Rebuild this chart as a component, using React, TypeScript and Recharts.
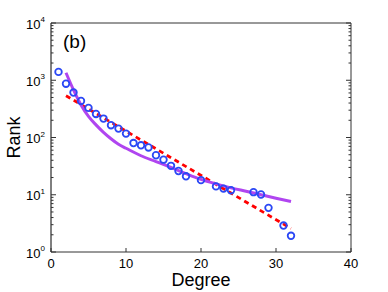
import { ComposedChart, Line, Scatter, XAxis, YAxis } from 'recharts'

// observed degree / rank points
const degrees = [1, 2, 3, 4, 5, 6, 7, 8, 9, 10, 11, 12, 13, 14, 15, 16, 17, 18, 20, 22, 23, 24, 27, 28, 29, 31, 32]
const ranks = [1400, 870, 610, 435, 329, 258, 214, 164, 143, 117, 80, 73, 67, 49, 41, 32, 26, 21, 18, 14, 12.8, 12, 11.1, 10.1, 5.9, 2.9, 1.92]

// exponential fit (red dashed)
const fitX = [2, 32]
const fitY = [537, 2.57]

// power-law style fit (purple)
const curveX = [2, 3, 4, 5, 6, 7, 8, 9, 10, 12, 14, 16, 18, 20, 22, 24, 26, 28, 30, 32]
const curveY = [1350, 676, 370, 234, 166, 123, 95, 76, 65, 48, 38, 30, 23.4, 18.6, 15.5, 13.2, 11.5, 10, 8.7, 7.6]

const xTicks = [0, 10, 20, 30, 40]
const majorY = [1, 10, 100, 1000, 10000]
const yTicks = majorY.flatMap(d => (d === 10000 ? [d] : [1, 2, 3, 4, 5, 6, 7, 8, 9].map(m => m * d)))

const points = degrees.map((x, i) => ({ x, y: ranks[i] }))
const fitData = fitX.map((x, i) => ({ x, y: fitY[i] }))
const curveData = curveX.map((x, i) => ({ x, y: curveY[i] }))

const font = '"Liberation Sans", Arial, sans-serif'
const axisColor = '#333'

const isMajor = (v: number) => majorY.includes(v)

const LeftTick = (props: any) => {
  const { x, y, payload } = props
  const v = payload.value
  const major = isMajor(v)
  const exp = Math.round(Math.log10(v))
  return (
    <g>
      <line x1={x} x2={x + (major ? 5 : 2.5)} y1={y} y2={y} stroke={axisColor} />
      {major && (
        <text x={x - 6} y={y + 5.6} textAnchor="end" fontSize={13} fontFamily={font} fill="#000">
          10
          <tspan fontSize={8} dy={-6.6}>{exp}</tspan>
        </text>
      )}
    </g>
  )
}

const RightTick = (props: any) => {
  const { x, y, payload } = props
  const major = isMajor(payload.value)
  return <line x1={x} x2={x - (major ? 5 : 2.5)} y1={y} y2={y} stroke={axisColor} />
}

const BottomTick = (props: any) => {
  const { x, y, payload } = props
  return (
    <g>
      <line x1={x} x2={x} y1={y} y2={y - 4} stroke={axisColor} />
      <text x={x} y={y + 16} textAnchor="middle" fontSize={13} fontFamily={font} fill="#000">
        {payload.value}
      </text>
    </g>
  )
}

const TopTick = (props: any) => {
  const { x, y } = props
  return <line x1={x} x2={x} y1={y} y2={y + 4} stroke={axisColor} />
}

const Ring = (props: any) => {
  const { cx, cy } = props
  if (cx == null || cy == null) return null
  return <circle cx={cx} cy={cy} r={3.3} fill="none" stroke="#2b48f5" strokeWidth={1.8} />
}

export default function App() {
  return (
    <div style={{ position: 'absolute', left: 0, top: 0, background: '#fff' }}>
      <ComposedChart width={388} height={292} margin={{ top: 22, right: 36, bottom: 0, left: 0 }}>
        <XAxis
          xAxisId="b"
          type="number"
          dataKey="x"
          domain={[0, 40]}
          ticks={xTicks}
          interval={0}
          allowDataOverflow
          height={40}
          tickSize={0}
          tickMargin={0}
          tickLine={false}
          tick={<BottomTick />}
          axisLine={{ stroke: axisColor }}
          label={{
            content: ({ viewBox }: any) => (
              <text x={viewBox.x + viewBox.width / 2} y={viewBox.y + 34} textAnchor="middle" fontSize={18} fontFamily={font} fill="#000">
                Degree
              </text>
            ),
          }}
        />
        <XAxis
          xAxisId="t"
          orientation="top"
          type="number"
          domain={[0, 40]}
          ticks={xTicks}
          interval={0}
          allowDataOverflow
          height={1}
          tickSize={0}
          tickMargin={0}
          tickLine={false}
          tick={<TopTick />}
          axisLine={{ stroke: axisColor }}
        />
        <YAxis
          yAxisId="l"
          dataKey="y"
          scale="log"
          domain={[1, 10000]}
          ticks={yTicks}
          interval={0}
          allowDataOverflow
          width={51}
          tickSize={0}
          tickMargin={0}
          tickLine={false}
          tick={<LeftTick />}
          axisLine={{ stroke: '#000' }}
          label={{
            content: ({ viewBox }: any) => {
              const cx = 14
              const cy = viewBox.y + viewBox.height / 2
              return (
                <g>
                  <text x={cx} y={cy} transform={`rotate(-90 ${cx} ${cy})`} textAnchor="middle" dominantBaseline="central" fontSize={18} fontFamily={font} fill="#000">
                    Rank
                  </text>
                  <text x={viewBox.x + viewBox.width + 12} y={viewBox.y + 25} fontSize={19} fontFamily={font} fill="#000">
                    (b)
                  </text>
                </g>
              )
            },
          }}
        />
        <YAxis
          yAxisId="r"
          orientation="right"
          scale="log"
          domain={[1, 10000]}
          ticks={yTicks}
          interval={0}
          allowDataOverflow
          width={1}
          tickSize={0}
          tickMargin={0}
          tickLine={false}
          tick={<RightTick />}
          axisLine={{ stroke: axisColor }}
        />
        <Line
          xAxisId="b"
          yAxisId="l"
          data={fitData}
          dataKey="y"
          type="linear"
          stroke="#ff0000"
          strokeWidth={2.8}
          strokeDasharray="5 4"
          dot={false}
          isAnimationActive={false}
        />
        <Line
          xAxisId="b"
          yAxisId="l"
          data={curveData}
          dataKey="y"
          type="monotone"
          stroke="#b045f0"
          strokeWidth={3}
          dot={false}
          isAnimationActive={false}
        />
        <Scatter xAxisId="b" yAxisId="l" data={points} dataKey="y" shape={<Ring />} isAnimationActive={false} />
      </ComposedChart>
    </div>
  )
}
